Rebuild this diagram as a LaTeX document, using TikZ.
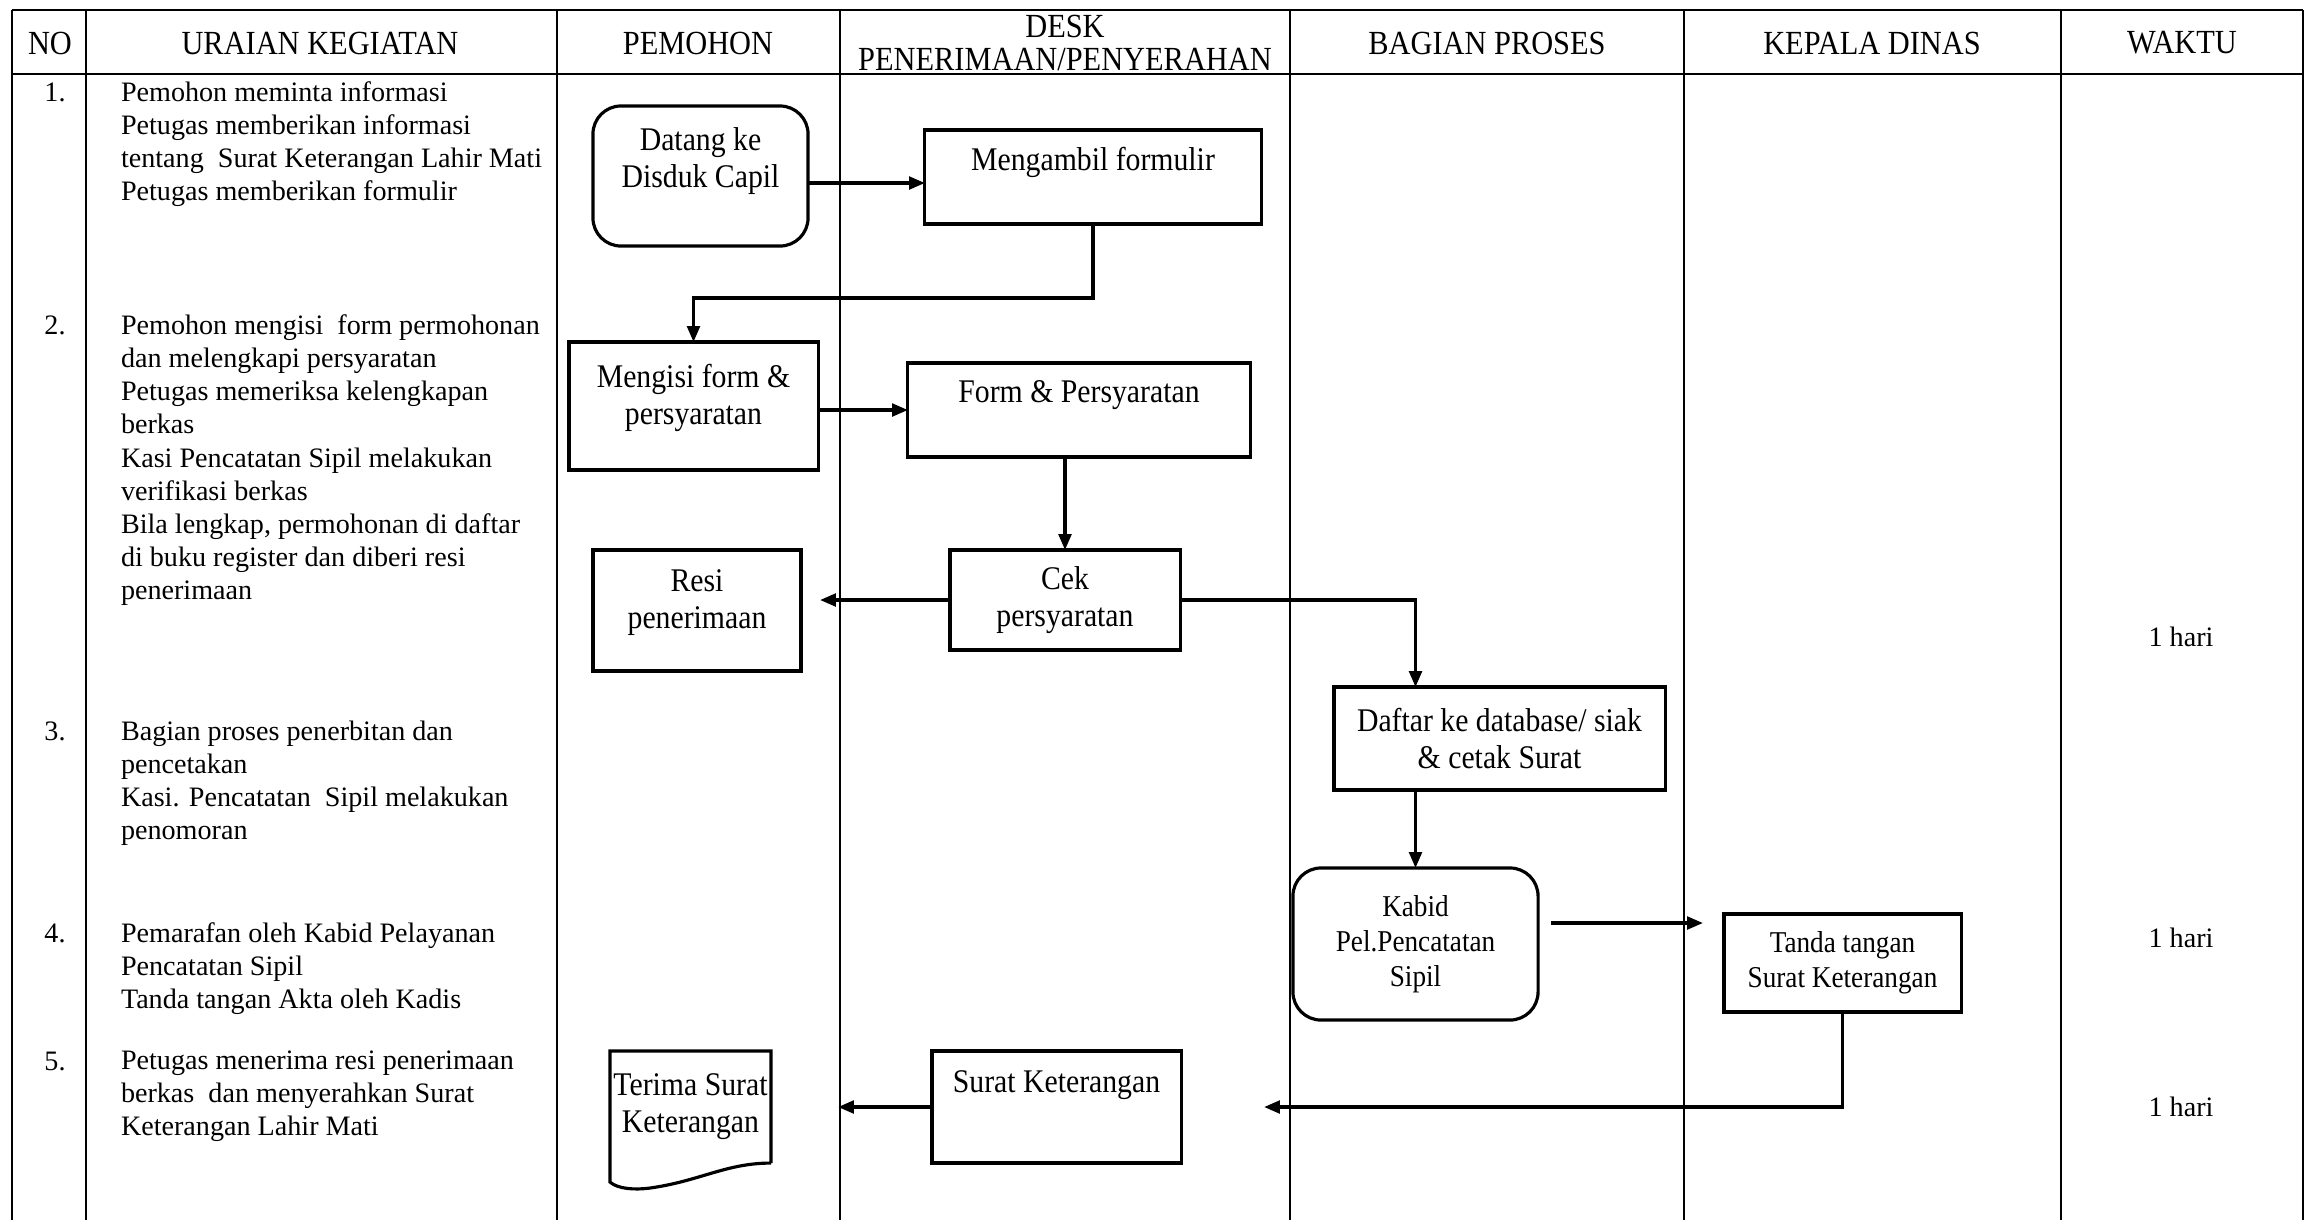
\documentclass[tikz,border=0pt]{standalone}
\usepackage{fontspec}
\setmainfont{Liberation Serif}
\newfontfamily\condfont[FakeStretch=0.9]{Liberation Serif}
\usetikzlibrary{arrows.meta,calc}
\begin{document}
\begin{tikzpicture}[x=0.01cm,y=-0.01cm,
  every node/.style={inner sep=0pt,outer sep=0pt},
  vline/.style={line width=0.5pt},
  hline/.style={line width=0.8pt},
  hdr/.style={font=\condfont\fontsize{9.6}{9.4}\selectfont,align=center},
  desc/.style={font=\fontsize{8}{9.4}\selectfont,align=left,anchor=north west},
  num/.style={font=\fontsize{8}{9.4}\selectfont,anchor=base},
  box/.style={draw,line width=0.9pt,align=center,font=\condfont\fontsize{9.4}{10.5}\selectfont},
  sbox/.style={box,font=\condfont\fontsize{8.6}{10}\selectfont},
  rbox/.style={rounded corners=8pt},
  arr/.style={line width=0.9pt,-{Triangle[length=4.5pt,width=3.6pt]}},
  conn/.style={line width=0.9pt},
  waktu/.style={font=\fontsize{8}{9.4}\selectfont}
]
\useasboundingbox (0,0) rectangle (2312,1220);

% table frame
\draw[hline] (12,10) -- (2303,10);
\draw[hline] (12,74) -- (2303,74);
\foreach \x in {12,86,557,840,1290,1684,2061,2303}
  \draw[vline] (\x,10) -- (\x,1220);

% header
\node[hdr] (hno) at (50,43) {NO};
\node[hdr] (hur) at (320,43) {URAIAN KEGIATAN};
\node[hdr] (hpe) at (698,43) {PEMOHON};
\node[hdr] (hde) at (1065,43) {DESK\\PENERIMAAN/PENYERAHAN};
\node[hdr] (hba) at (1487,43) {BAGIAN PROSES};
\node[hdr] (hke) at (1872,43) {KEPALA DINAS};
\node[hdr] (hwa) at (2182,43) {WAKTU};

% numbers
\node[num] (n1) at (55,101) {1.};
\node[num] (n2) at (55,334) {2.};
\node[num] (n3) at (55,740) {3.};
\node[num] (n4) at (55,942) {4.};
\node[num] (n5) at (55,1070) {5.};

% descriptions
\node[desc] (d1) at (121,82) {Pemohon meminta informasi\\Petugas memberikan informasi\\tentang\ \ Surat Keterangan Lahir Mati\\Petugas memberikan formulir};
\node[desc] (d2) at (121,315) {Pemohon mengisi\ \ form permohonan\\dan melengkapi persyaratan\\Petugas memeriksa kelengkapan\\berkas\\Kasi Pencatatan Sipil melakukan\\verifikasi berkas\\Bila lengkap, permohonan di daftar\\di buku register dan diberi resi\\penerimaan};
\node[desc] (d3) at (121,721) {Bagian proses penerbitan dan\\pencetakan\\Kasi. Pencatatan\ \ Sipil melakukan\\penomoran};
\node[desc] (d4) at (121,923) {Pemarafan oleh Kabid Pelayanan\\Pencatatan Sipil\\Tanda tangan Akta oleh Kadis};
\node[desc] (d5) at (121,1051) {Petugas menerima resi penerimaan\\berkas\ \ dan menyerahkan Surat\\Keterangan Lahir Mati};

% waktu
\node[waktu] (w1) at (2181,637) {1 hari};
\node[waktu] (w2) at (2181,938) {1 hari};
\node[waktu] (w3) at (2181,1107) {1 hari};

% flow boxes
\node[box,rbox,minimum width=2.15cm,minimum height=1.40cm] (datang) at (700.5,176) {Datang ke\\Disduk Capil\\~};
\node[box,minimum width=3.36cm,minimum height=0.94cm] (ambil) at (1093,177) {Mengambil formulir\\~};
\node[box,minimum width=2.49cm,minimum height=1.28cm] (isi) at (693.5,406) {Mengisi form \&\\persyaratan\\[-4pt]~};
\node[box,minimum width=3.42cm,minimum height=0.94cm] (form) at (1079,410) {Form \& Persyaratan\\~};
\node[box,minimum width=2.30cm,minimum height=1.00cm] (cek) at (1065,600) {Cek\\persyaratan};
\node[box,minimum width=2.08cm,minimum height=1.21cm] (resi) at (697,610.5) {Resi\\penerimaan\\[-4pt]~};
\node[box,minimum width=3.31cm,minimum height=1.03cm] (daftar) at (1499.5,738.5) {Daftar ke database/ siak\\\& cetak Surat};
\node[sbox,rbox,minimum width=2.45cm,minimum height=1.52cm] (kabid) at (1415.5,944) {Kabid\\Pel.Pencatatan\\Sipil};
\node[sbox,minimum width=2.37cm,minimum height=0.98cm] (tanda) at (1842.5,963) {Tanda tangan\\Surat Keterangan};
\node[box,minimum width=2.49cm,minimum height=1.12cm] (surat) at (1056.5,1107) {Surat Keterangan\\[4pt]~};
\node[box,draw=none,minimum width=1.61cm,minimum height=1.12cm] (terima) at (690.5,1107) {Terima Surat\\Keterangan\\[-8pt]~};
\draw[conn] (terima.south east) -- (terima.north east) -- (terima.north west) -- ($(terima.south west)+(0,19)$)
  .. controls ($(terima.south west)+(8,26)$) and ($(terima.south west)+(25,27)$) .. ($(terima.south west)+(40,25)$)
  .. controls ($(terima.south west)+(90,18)$) and ($(terima.south east)+(-45,0)$) .. (terima.south east);

% connectors
\coordinate (datout) at ($(datang.east)+(0,7)$);
\draw[arr] (datout) -- (datout -| ambil.west);
\draw[arr] (ambil.south) -- ++(0,74) -| (isi.north);
\draw[arr] (isi.east |- form.west) -- (form.west);
\draw[arr] (form.south -| cek.north) -- (cek.north);
\coordinate (resiin) at ($(resi.east)+(19,0)$);
\draw[arr] (cek.west) -- (cek.west -| resiin);
\draw[arr] (cek.east) -| (daftar.north -| kabid.north);
\draw[arr] (daftar.south -| kabid.north) -- (kabid.north);
\coordinate (kabout) at ($(kabid.east)+(13,-21)$);
\coordinate (tandain) at ($(tanda.west)+(-21,0)$);
\draw[arr] (kabout) -- (kabout -| tandain);
\coordinate (suratin) at ($(surat.east)+(83,0)$);
\draw[arr] (tanda.south) |- (suratin);
\coordinate (terimain) at ($(terima.east)+(67,0)$);
\draw[arr] (surat.west) -- (terimain);
\end{tikzpicture}
\end{document}
